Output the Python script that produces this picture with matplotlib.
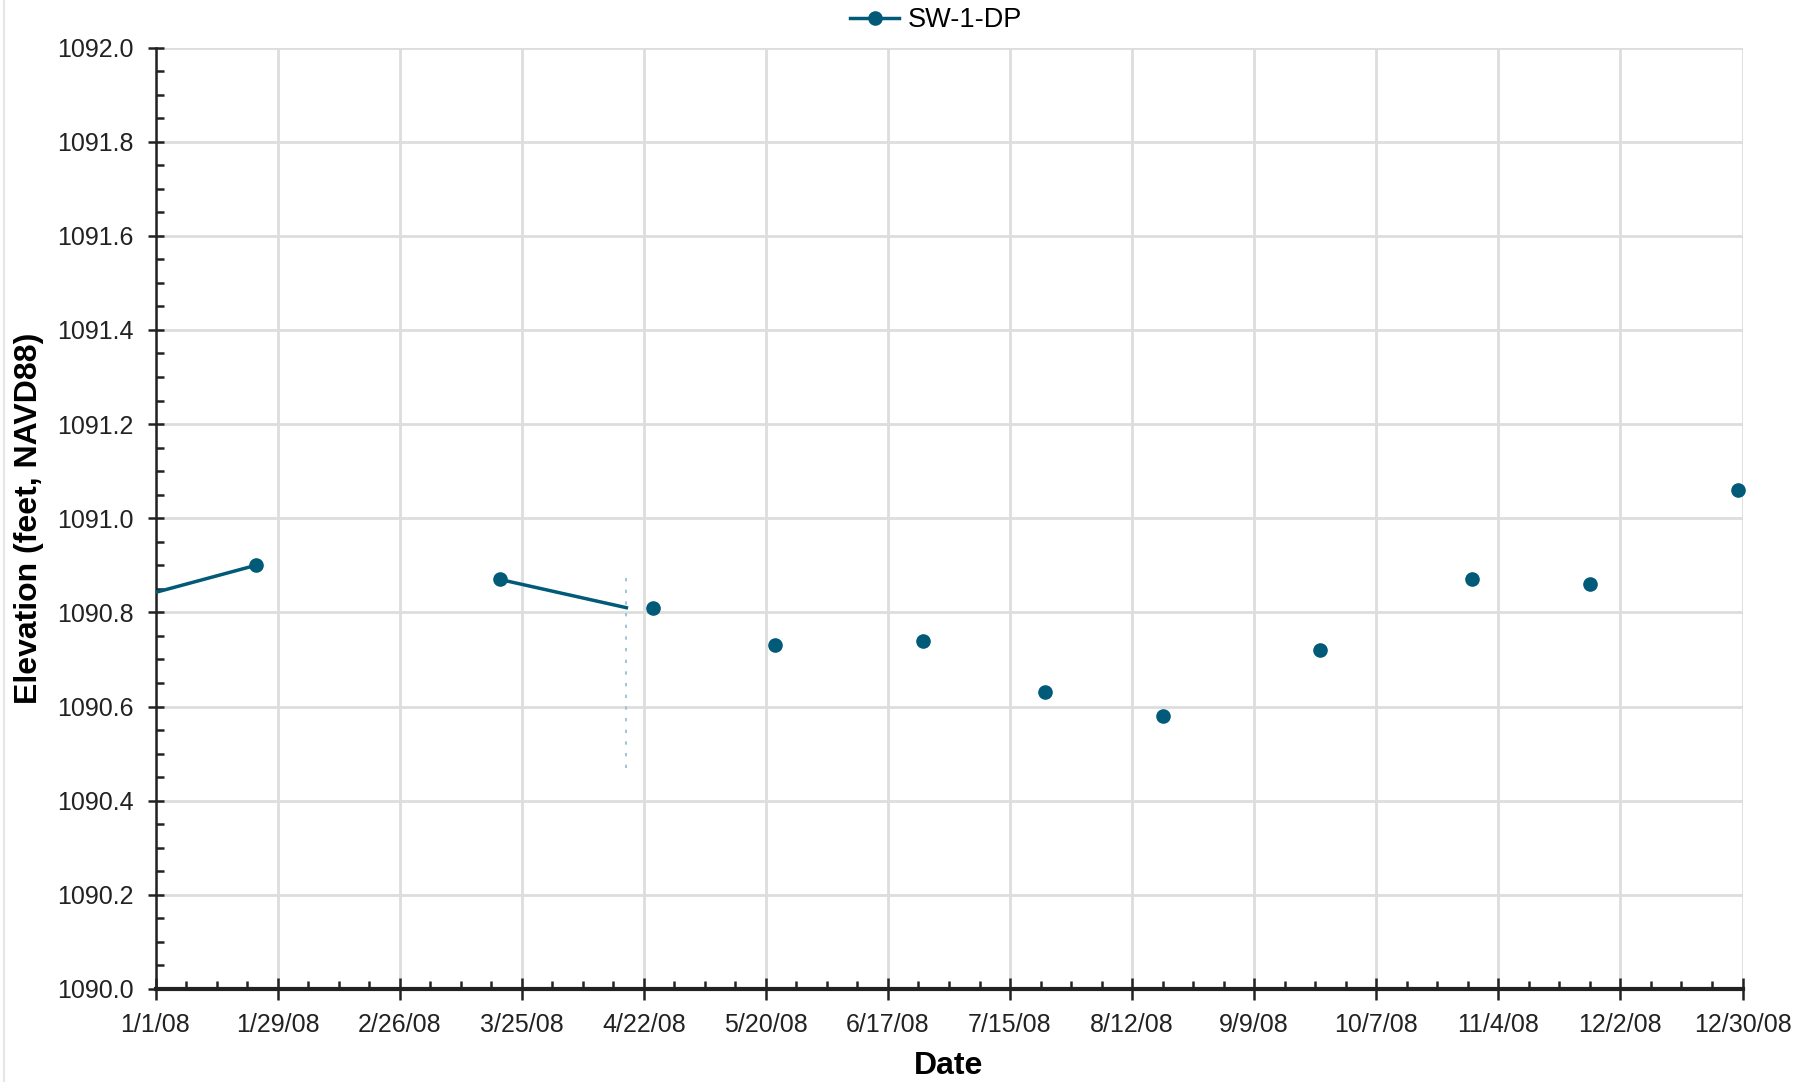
import pandas as pd
import matplotlib.pyplot as plt
from matplotlib.ticker import MultipleLocator, FormatStrFormatter
from matplotlib.lines import Line2D

plt.rcParams["font.family"] = ["Liberation Sans", "DejaVu Sans"]

series_name = 'SW-1-DP'
line_color = '#005a78'

# measured points (with markers)
point_dates = ['2008-01-24', '2008-03-20', '2008-04-24', '2008-05-22', '2008-06-25',
               '2008-07-23', '2008-08-19', '2008-09-24', '2008-10-29', '2008-11-25',
               '2008-12-29']
point_values = [1090.90, 1090.87, 1090.81, 1090.73, 1090.74,
                1090.63, 1090.58, 1090.72, 1090.87, 1090.86,
                1091.06]

# connected line pieces
segments = [
    (['2007-12-19', '2008-01-24'], [1090.81, 1090.90]),
    (['2008-03-20', '2008-04-18'], [1090.87, 1090.81]),
]

# faint vertical mark
mark_date = '2008-04-18'
mark_range = (1090.47, 1090.89)

tick_start = '2008-01-01'
tick_end = '2008-12-30'

fig = plt.figure(figsize=(18.18, 10.82), dpi=100)
ax = fig.add_axes([155.5 / 1818, 1 - 989 / 1082, (1742.5 - 155.5) / 1818, (989 - 47.5) / 1082])

ax.plot(pd.to_datetime(point_dates), point_values, linestyle='none', marker='o', markersize=9.5,
        color=line_color, zorder=4, clip_on=False)

for seg_dates, seg_values in segments:
    ax.plot(pd.to_datetime(seg_dates), seg_values, color=line_color, linewidth=2.5, zorder=3)

ax.vlines(pd.Timestamp(mark_date), mark_range[0], mark_range[1], colors='#8fbccd',
          linestyles=(0, (2, 5)), linewidth=1.2, zorder=2)

major_ticks = pd.date_range(tick_start, tick_end, freq='28D')
minor_ticks = pd.date_range(tick_start, tick_end, freq='7D')
ax.set_xlim(pd.Timestamp(tick_start), pd.Timestamp(tick_end))
ax.set_xticks(major_ticks)
ax.set_xticks(minor_ticks, minor=True)
ax.set_xticklabels([f'{d.month}/{d.day}/{d.strftime("%y")}' for d in major_ticks])

ax.set_ylim(1090.0, 1092.0)
ax.yaxis.set_major_locator(MultipleLocator(0.2))
ax.yaxis.set_minor_locator(MultipleLocator(0.05))
ax.yaxis.set_major_formatter(FormatStrFormatter('%.1f'))

ax.grid(which='major', color='#dddddd', linewidth=2)
ax.set_axisbelow(True)
for s in ['top', 'right']:
    ax.spines[s].set_visible(False)
ax.spines['left'].set_linewidth(1.8)
ax.spines['bottom'].set_linewidth(3)
ax.spines['left'].set_color('#222222')
ax.spines['bottom'].set_color('#222222')

ax.tick_params(axis='both', which='major', direction='inout', length=12, width=1.8,
               labelsize=18, colors='#222222')
ax.tick_params(axis='y', which='major', pad=10)
ax.tick_params(axis='x', which='major', length=16, pad=9)
ax.tick_params(axis='both', which='minor', direction='in', length=6, width=1.8, colors='#222222')

ax.set_xlabel('Date', fontsize=23, fontweight='bold', labelpad=10)
ax.set_ylabel('Elevation (feet, NAVD88)', fontsize=23, fontweight='bold', labelpad=9)

leg_handle = Line2D([], [], color=line_color, linewidth=2.5, marker='o', markersize=9.5)
fig.legend([leg_handle], [series_name], loc='center', bbox_to_anchor=(936 / 1818, 1 - 20 / 1082),
           frameon=False, fontsize=19.5, handlelength=1.8, handletextpad=0.3)

fig.add_artist(Line2D([4 / 1818, 4 / 1818], [0, 1], color='#e6e6e6', linewidth=1.5))

plt.savefig('out.png', dpi=100)
